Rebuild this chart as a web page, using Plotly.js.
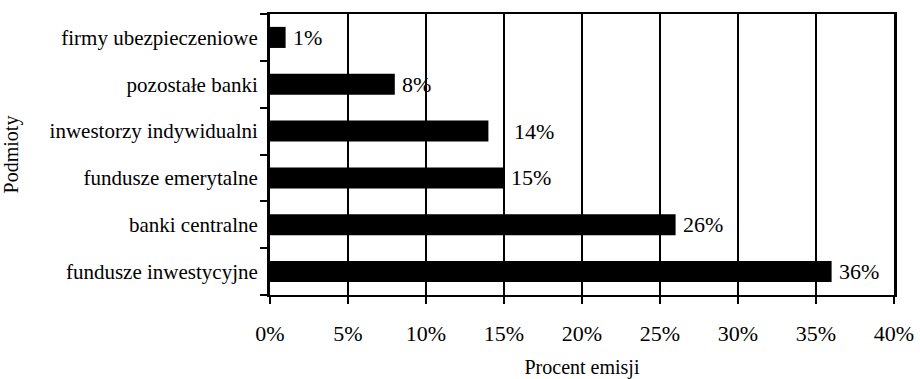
<!DOCTYPE html>
<html>
<head>
<meta charset="utf-8">
<script src="https://cdn.plot.ly/plotly-3.0.1.min.js"></script>
<style>html,body{margin:0;padding:0;background:#fff;}#chart{width:920px;height:379px;}</style>
</head>
<body>
<div id="chart"></div>
<script>
// Data (bottom to top)
var categories = ["fundusze inwestycyjne", "banki centralne", "fundusze emerytalne", "inwestorzy indywidualni", "pozostałe banki", "firmy ubezpieczeniowe"];
var values = [36, 26, 15, 14, 8, 1];
var labels = ["36%", "26%", "15%", "14%", "8%", "1%"];
var xTickVals = [0, 5, 10, 15, 20, 25, 30, 35, 40];
var xTickText = ["0%", "5%", "10%", "15%", "20%", "25%", "30%", "35%", "40%"];

var FONT = "Liberation Serif";

var trace = {
  type: "bar",
  orientation: "h",
  y: categories,
  x: values,
  marker: {color: "#000", line: {width: 0}},
  hoverinfo: "none"
};

var shifts = {"14%": 24};
var annotations = values.map(function (v, i) {
  return {
    x: v, y: categories[i], xref: "x", yref: "y",
    text: labels[i], showarrow: false,
    xanchor: "left", yanchor: "middle",
    xshift: shifts[labels[i]] !== undefined ? shifts[labels[i]] : 5,
    font: {family: FONT, size: 22, color: "#000"}
  };
});

var layout = {
  width: 920, height: 379,
  margin: {l: 270, r: 26, t: 14, b: 84},
  paper_bgcolor: "#fff", plot_bgcolor: "#fff",
  showlegend: false,
  bargap: 0.55,
  font: {family: FONT, size: 21, color: "#000"},
  xaxis: {
    range: [0, 40],
    tickvals: xTickVals, ticktext: xTickText,
    showgrid: true, gridcolor: "#000", gridwidth: 2,
    zeroline: false,
    showline: true, linecolor: "#000", linewidth: 2, mirror: true,
    ticks: "outside", ticklen: 7, tickwidth: 2, tickcolor: "#000",
    ticklabelstandoff: 11,
    tickfont: {family: FONT, size: 22, color: "#000"},
    title: {text: "Procent emisji", font: {family: FONT, size: 20, color: "#000"}, standoff: 16},
    fixedrange: true
  },
  yaxis: {
    type: "category",
    categoryorder: "array", categoryarray: categories,
    showgrid: false, zeroline: false,
    showline: true, linecolor: "#000", linewidth: 3, mirror: true,
    ticks: "outside", ticklen: 7, tickwidth: 2, tickcolor: "#000",
    tickson: "boundaries",
    ticklabelstandoff: 5,
    tickfont: {family: FONT, size: 21, color: "#000"},
    title: {text: "Podmioty", font: {family: FONT, size: 20, color: "#000"}, standoff: 28},
    fixedrange: true
  },
  annotations: annotations
};

Plotly.newPlot("chart", [trace], layout, {displayModeBar: false, staticPlot: true});
</script>
</body>
</html>
